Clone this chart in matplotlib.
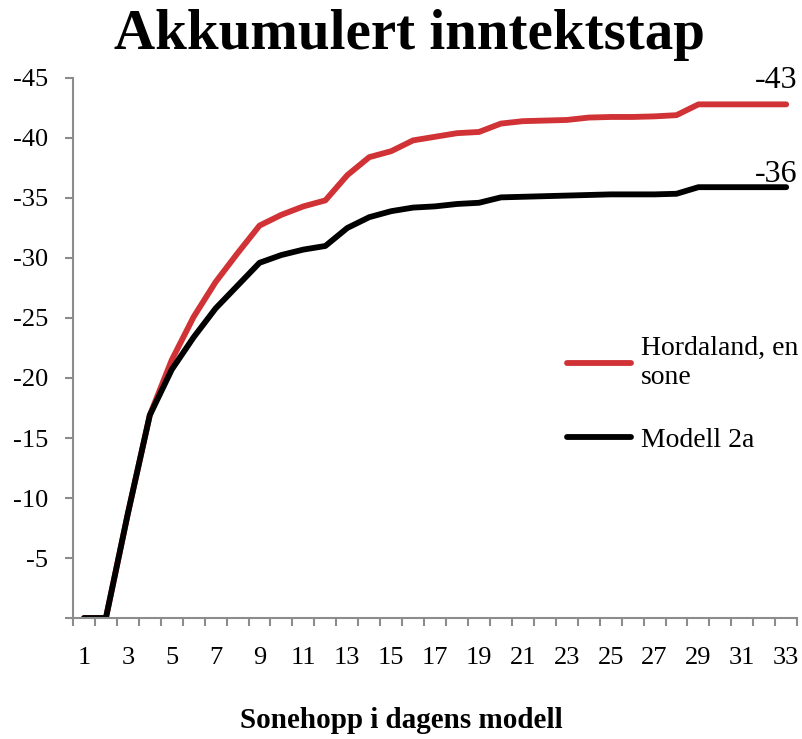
import matplotlib.pyplot as plt
import numpy as np

# sonehopp (kategorier) og akkumulert inntektstap
sonehopp = list(range(1, 34))
hordaland = [0, 0, -8.7, -16.9, -21.5, -25.1, -28.0, -30.4, -32.7, -33.6, -34.3,
             -34.8, -36.9, -38.4, -38.9, -39.8, -40.1, -40.4, -40.5, -41.2, -41.4,
             -41.45, -41.5, -41.7, -41.75, -41.75, -41.8, -41.9, -42.8, -42.8,
             -42.8, -42.8, -42.8]
modell_2a = [0, 0, -8.7, -16.9, -20.7, -23.4, -25.8, -27.7, -29.6, -30.25, -30.7,
             -31.0, -32.5, -33.4, -33.9, -34.2, -34.3, -34.5, -34.6, -35.05, -35.1,
             -35.15, -35.2, -35.25, -35.3, -35.3, -35.3, -35.35, -35.9, -35.9,
             -35.9, -35.9, -35.9]
y_ticks = [0, -5, -10, -15, -20, -25, -30, -35, -40, -45]

plt.rcParams['font.family'] = ['Liberation Serif', 'DejaVu Serif']

fig = plt.figure(figsize=(8.02, 7.39), dpi=100)
ax = fig.add_axes([0.091, 0.1637, 0.903, 0.7308])

red = '#D03236'
ax.plot(sonehopp, hordaland, color=red, lw=4.2, solid_capstyle='round',
        label='Hordaland, en\nsone')
ax.plot(sonehopp, modell_2a, color='black', lw=4.2, solid_capstyle='round',
        label='Modell 2a')

# dataetiketter ved siste punkt
ax.annotate('%d' % round(hordaland[-1]), (sonehopp[-1], hordaland[-1]),
            xytext=(11, 9), textcoords='offset pixels', ha='right', va='bottom',
            fontsize=23)
ax.annotate('%d' % round(modell_2a[-1]), (sonehopp[-1], modell_2a[-1]),
            xytext=(11, -2), textcoords='offset pixels', ha='right', va='bottom',
            fontsize=23)

ax.set_xlim(0.5, 33.5)
ax.set_ylim(0, -45)

ax.set_yticks(y_ticks)
ax.set_yticklabels(['' if v == 0 else str(v) for v in y_ticks])
ax.set_xticks(sonehopp[::2])
ax.set_xticks(np.arange(0.5, 34, 1), minor=True)

gray = '#8c8c8c'
for s in ['top', 'right']:
    ax.spines[s].set_visible(False)
for s in ['left', 'bottom']:
    ax.spines[s].set_color(gray)
    ax.spines[s].set_linewidth(1.5)
ax.tick_params(axis='y', direction='out', length=6, width=1.5, color=gray,
               labelsize=19, pad=12)
ax.tick_params(axis='x', which='major', length=0, labelsize=19, pad=21)
ax.tick_params(axis='x', which='minor', direction='out', length=6, width=1.5,
               color=gray)

fig.suptitle('Akkumulert inntektstap', fontsize=41, fontweight='bold',
             x=0.51, y=0.988, va='top')
fig.text(0.5, 0.025, 'Sonehopp i dagens modell', fontsize=21,
         fontweight='bold', ha='center', va='center')

ax.legend(loc='upper left', bbox_to_anchor=(0.648, 0.568), frameon=False,
          fontsize=20, handlelength=2.3, handletextpad=0.35, labelspacing=1.35)

fig.savefig('out.png', dpi=100)
